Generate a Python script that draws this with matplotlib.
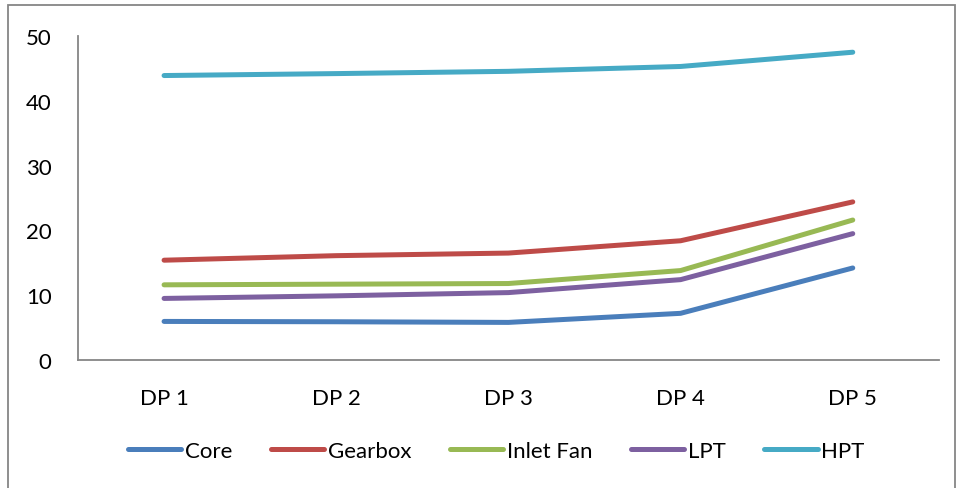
import matplotlib
matplotlib.use("Agg")
import matplotlib.pyplot as plt
from matplotlib.patches import Rectangle

# 값은 그림에서 읽어온 추정치
categories = ["DP 1", "DP 2", "DP 3", "DP 4", "DP 5"]
core = [5.95, 5.9, 5.8, 7.2, 14.2]
gearbox = [15.4, 16.1, 16.5, 18.4, 24.4]
inlet_fan = [11.6, 11.7, 11.8, 13.8, 21.6]
lpt = [9.5, 9.9, 10.4, 12.4, 19.5]
hpt = [43.9, 44.2, 44.55, 45.3, 47.5]

series = [
    ("Core", core, "#4A7EBB"),
    ("Gearbox", gearbox, "#BE4B48"),
    ("Inlet Fan", inlet_fan, "#98B954"),
    ("LPT", lpt, "#7D60A0"),
    ("HPT", hpt, "#46AAC5"),
]

plt.rcParams["font.family"] = ["Lato", "DejaVu Sans"]
FS = 16

fig = plt.figure(figsize=(9.58, 4.89), dpi=100)
ax = fig.add_axes([0.0814, 0.2618, 0.8986, 0.6625])

x = list(range(len(categories)))
for name, vals, col in series:
    ax.plot(x, vals, color=col, lw=3.6, label=name, solid_capstyle="round")

ax.set_xlim(-0.5, len(categories) - 0.5)
ax.set_ylim(0, 50)
ax.set_yticks([0, 10, 20, 30, 40, 50])
ax.set_xticks(x)
ax.set_xticklabels(categories)
ax.tick_params(axis="both", length=0, labelsize=FS, colors="black")
ax.tick_params(axis="y", pad=19)
ax.tick_params(axis="x", pad=20)

for s in ["top", "right"]:
    ax.spines[s].set_visible(False)
for s in ["left", "bottom"]:
    ax.spines[s].set_color("#868686")
    ax.spines[s].set_linewidth(1.3)

fig.legend(loc="center", bbox_to_anchor=(0.518, 0.076), ncol=5, frameon=False,
           fontsize=FS, handlelength=2.4, handletextpad=0.15, columnspacing=1.75)

# 바깥 테두리
fig.patches.append(Rectangle((8 / 958, -0.01), 947 / 958, 1 - 6 / 489 + 0.01,
                             transform=fig.transFigure, fill=False,
                             edgecolor="#868686", lw=1.3))

fig.savefig("out.png", dpi=100)
